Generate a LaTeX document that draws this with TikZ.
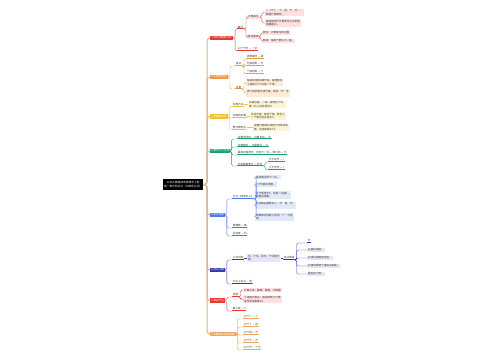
\documentclass[tikz,border=0pt]{standalone}
\usepackage{fontspec}
\setmainfont{Noto Sans CJK SC}
\newcommand\mmfs{\fontsize{2.6pt}{3.2pt}\selectfont}
\newcommand\mmfb{\fontsize{2.6pt}{3.2pt}\selectfont}
\newcommand\mmfr{\fontsize{2.7pt}{3.6pt}\selectfont}
\definecolor{c1}{HTML}{E53935}\definecolor{p1}{HTML}{FDE0DF}
\definecolor{c2}{HTML}{F39A3D}\definecolor{p2}{HTML}{FDEBD6}
\definecolor{c3}{HTML}{F2C12E}\definecolor{p3}{HTML}{FCF4D2}
\definecolor{c4}{HTML}{13A36C}
\definecolor{c5}{HTML}{4C78E6}\definecolor{p5}{HTML}{E2E9FB}
\definecolor{c6}{HTML}{2F3DB5}\definecolor{p6}{HTML}{E4E6F7}
\definecolor{c7}{HTML}{E53935}\definecolor{p7}{HTML}{FDE0DF}
\definecolor{c8}{HTML}{F2A65A}
\definecolor{trunkc}{HTML}{D9B68F}
\definecolor{txt}{HTML}{333333}
\tikzset{
  mm/.style={font=\mmfs, inner xsep=0.7pt, inner ysep=0.6pt, anchor=west, text=txt},
  rootbox/.style={fill=black, text=white, align=center, font=\mmfr, inner xsep=1.5pt, inner ysep=2.6pt},
  l1/.style={mm, fill=#1, text=white, font=\mmfb, inner xsep=1.2pt, inner ysep=1pt},
  tb/.style={mm, fill=#1, align=left, inner xsep=1pt, inner ysep=1pt},
  pl/.style={mm, fill=white, path picture={\draw[draw=#1, line width=0.8pt] (path picture bounding box.south west) -- (path picture bounding box.south east);}},
  cn/.style={draw=#1, line width=0.4pt, rounded corners=1.5pt},
  trunk/.style={draw=trunkc, line width=1pt, rounded corners=3pt}
}
\begin{document}
\begin{tikzpicture}[x=1pt,y=-1pt]
\useasboundingbox (0,0) rectangle (500,360);
\fill[white] (0,0) rectangle (500,360);

% root and trunk
\node[rootbox] (root) at (183,184.5) {2018人教版四年级数学上册\\第一单元知识点（大数的认识）};
\coordinate (tk) at (207,184.5);

% level 1
\node[l1=c1] (b1) at (210,38) {1.亿以内数的认识};
\node[l1=c2] (b2) at (210,77) {2.大数的读法};
\node[l1=c3] (b3) at (210,116.5) {3.大数的写法};
\node[l1=c4] (b4) at (210,151) {4.数的大小比较};
\node[l1=c5] (b5) at (210,215) {5.求近似数};
\node[l1=c6] (b6) at (210,270) {6.亿以上数};
\node[l1=c7] (b7) at (210,300.5) {7.数的产生};
\node[l1=c8] (b8) at (210,334) {8.计数单位间的进率};
\foreach \b in {b1,b2,b3,b4,b5,b6,b7,b8}
  \draw[trunk] (root.east) -- (tk) |- (\b.west);

% branch 1
\node[pl=c1] (A) at (237,27) {概念};
\node[tb=p1] (A1) at (247,17) {计数单位};
\node[tb=p1] (A1a) at (265,12.5) {一（个）、十、百、千、万……\\都是计数单位。};
\node[tb=p1] (A1b) at (265,23) {每相邻两个计数单位之间的进\\率都是10。};
\node[tb=p1] (A2) at (247,37) {数位数级};
\node[tb=p1] (A2a) at (262,33) {数位：计数单位的位置};
\node[tb=p1] (A2b) at (262,41) {数级：每四个数位为一级。};
\node[pl=c1] (B) at (237,49) {10个千万 — 一亿};
\draw[cn=c1] (b1.east) -- ++(2,0) |- (A.south west);
\draw[cn=c1] (b1.east) -- ++(2,0) |- (B.south west);
\draw[cn=c1] (A.south east) -- ++(2,0) |- (A1.west);
\draw[cn=c1] (A.south east) -- ++(2,0) |- (A2.west);
\draw[cn=c1] (A1.east) -- ++(2,0) |- (A1a.west);
\draw[cn=c1] (A1.east) -- ++(2,0) |- (A1b.west);
\draw[cn=c1] (A2.east) -- ++(1,0) |- (A2a.west);
\draw[cn=c1] (A2.east) -- ++(1,0) |- (A2b.west);

% branch 2
\node[pl=c2] (C) at (235,64) {读法};
\node[pl=c2] (C1) at (246,57) {读数顺序 — 高};
\node[pl=c2] (C2) at (246,64) {万级的数 — 万};
\node[pl=c2] (C3) at (246,72) {个级的数 — 个};
\node[pl=c2] (D) at (235,87) {注意};
\node[tb=p2] (D1) at (246,82.5) {每级末尾的0都不读，其他数位\\上连续几个0只读一个零。};
\node[tb=p2] (D2) at (246,93) {按个级的读法读万级，再加“万”字\\。};
\draw[cn=c2] (b2.east) -- ++(2,0) |- (C.south west);
\draw[cn=c2] (b2.east) -- ++(2,0) |- (D.south west);
\foreach \n in {C1,C2,C3} \draw[cn=c2] (C.south east) -- ++(2,0) |- (\n.south west);
\foreach \n in {D1,D2} \draw[cn=c2] (D.south east) -- ++(2,0) |- (\n.west);

% branch 3
\node[pl=c3] (E) at (232,104.5) {写数方法};
\node[tb=p3] (Eb) at (248,104.5) {从高位起，一级一级地往下写，\\哪一位上没有就写0。};
\node[pl=c3] (F) at (232,116) {写数的步骤};
\node[tb=p3] (Fb) at (250,116) {先写万级，再写个级，数位上\\一个单位也没有写0。};
\node[pl=c3] (G) at (232,127.5) {整万数改写};
\node[tb=p3] (Gb) at (253,127.5) {把整万数改写成用万作单位的\\数，去掉末尾4个0。};
\foreach \n in {E,F,G} \draw[cn=c3] (b3.east) -- ++(1.5,0) |- (\n.south west);
\draw[cn=c3] (E.east) -- (Eb.west);
\draw[cn=c3] (F.east) -- (Fb.west);
\draw[cn=c3] (G.east) -- (Gb.west);

% branch 4
\node[pl=c4] (H1) at (237,137) {位数不同时 — 位数多的 — 大};
\node[pl=c4] (H2) at (237,145) {位数相同 — 比最高位 — 大};
\node[pl=c4] (H3) at (237,153) {最高位相同时，比较下一位 — 数大的 — 大};
\node[pl=c4] (H4) at (237,164) {比较结果表示 — 符号};
\node[pl=c4] (H4a) at (268,160) {大于写作 — >};
\node[pl=c4] (H4b) at (268,168) {小于写作 — <};
\foreach \n in {H1,H2,H3,H4} \draw[cn=c4] (b4.east) -- ++(1,0) |- (\n.south west);
\foreach \n in {H4a,H4b} \draw[cn=c4] (H4.south east) -- ++(2,0) |- (\n.south west);

% branch 5
\node[pl=c5] (I) at (232,197) {方法（四舍五入）};
\node[tb=p5] (I1) at (255,177) {看省略位的下一位。};
\node[tb=p5] (I2) at (255,184.5) {小于5舍去尾数。};
\node[tb=p5] (I3) at (255,195) {大于或等于5，向前一位进1，\\再舍去尾数。};
\node[tb=p5] (I4) at (255,205.5) {近似数后面要写上“万”或“亿”\\。};
\node[tb=p5] (I5) at (255,217) {原数和近似数之间用“≈”号连\\接。};
\node[pl=c5] (J) at (232,226) {准确数 — 真};
\node[pl=c5] (K) at (232,234) {近似数 — 约};
\foreach \n in {I,J,K} \draw[cn=c5] (b5.east) -- ++(1.5,0) |- (\n.south west);
\foreach \n in {I1,I2,I3,I4,I5} \draw[cn=c5] (I.south east) -- ++(1.5,0) |- (\n.west);

% branch 6
\node[pl=c6] (L) at (232,258) {认识亿级};
\node[tb=p6] (Lb) at (247,258) {亿、十亿、百亿、千亿是亿\\级。};
\node[pl=c6] (Q) at (283,258) {读法步骤};
\node[pl=c6] (Q0) at (307,241) {分};
\node[tb=p6] (Q1) at (307,250) {从高位读起。};
\node[tb=p6] (Q2) at (307,258) {先读亿级再读万级。};
\node[tb=p6] (Q3) at (307,266) {亿级的数按个级读法来读。};
\node[tb=p6] (Q4) at (307,274) {最后读个级。};
\node[pl=c6] (M) at (232,282) {亿以上写法 — 同};
\foreach \n in {L,M} \draw[cn=c6] (b6.east) -- ++(1.5,0) |- (\n.south west);
\draw[cn=c6] (L.east) -- (Lb.west);
\draw[cn=c6] (Lb.east) -- (Q.west);
\draw[cn=c6] (Q.south east) -- ++(1.5,0) |- (Q0.south west);
\foreach \n in {Q1,Q2,Q3,Q4} \draw[cn=c6] (Q.south east) -- ++(1.5,0) |- (\n.west);

% branch 7
\node[pl=c7] (N) at (232,295) {发展};
\node[tb=p7] (N1) at (243,290) {计数工具：算筹、算盘、计算器};
\node[tb=p7] (N2) at (243,299.5) {十进制计数法：每相邻两个计数\\单位间进率是10。};
\node[pl=c7] (O) at (232,309) {最小数 — 0};
\foreach \n in {N,O} \draw[cn=c7] (b7.east) -- ++(1.5,0) |- (\n.south west);
\foreach \n in {N1,N2} \draw[cn=c7] (N.south east) -- ++(1.5,0) |- (\n.west);

% branch 8
\node[pl=c8] (P1) at (243,317) {10个一 — 十};
\node[pl=c8] (P2) at (243,325) {10个十 — 百};
\node[pl=c8] (P3) at (243,333) {10个百 — 千};
\node[pl=c8] (P4) at (243,341) {10个千 — 万};
\node[pl=c8] (P5) at (243,348) {10个万 — 十万};
\foreach \n in {P1,P2,P3,P4,P5} \draw[cn=c8] (b8.east) -- ++(1.5,0) |- (\n.south west);
\end{tikzpicture}
\end{document}
